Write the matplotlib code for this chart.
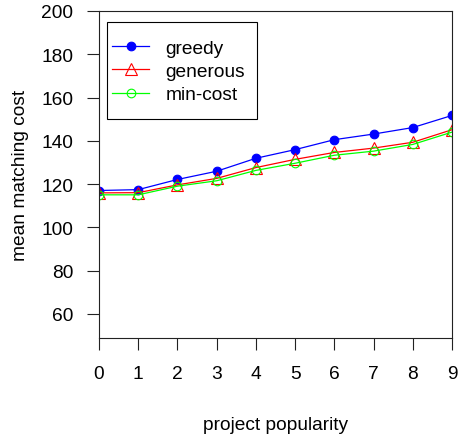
import matplotlib
matplotlib.use("Agg")
import matplotlib.pyplot as plt
from matplotlib.patches import Rectangle

plt.rcParams['font.family'] = ['Liberation Sans', 'DejaVu Sans']

popularity = [0, 1, 2, 3, 4, 5, 6, 7, 8, 9]
greedy = [117.0, 117.4, 122.1, 125.9, 131.9, 135.9, 140.5, 143.1, 146.1, 151.7]
generous = [115.9, 116.0, 119.6, 122.6, 127.6, 131.4, 134.6, 136.6, 139.3, 145.1]
min_cost = [115.0, 115.0, 119.0, 121.5, 126.3, 129.6, 133.3, 135.2, 138.3, 144.0]
xticks = list(range(10))
yticks = [60, 80, 100, 120, 140, 160, 180, 200]

W, H = 458, 439
fig = plt.figure(figsize=(W / 100, H / 100), dpi=100)
ax = fig.add_axes([99 / W, 1 - 339 / H, (452 - 99) / W, (339 - 12) / H])

fs = 13.8
lw = 0.9
ax.plot(popularity, greedy, color='blue', lw=lw, marker='o', ms=6.2,
        mfc='blue', mec='blue', mew=0.8, label='greedy')
ax.plot(popularity, generous, color='red', lw=lw, marker='^', ms=8,
        mfc='none', mec='red', mew=0.8, label='generous')
ax.plot(popularity, min_cost, color='#00ff00', lw=lw, marker='o', ms=6.2,
        mfc='none', mec='#00ff00', mew=0.8, label='min-cost')

ax.set_xlim(0, 9)
ax.set_ylim(48.8, 200)
ax.set_xticks(xticks)
ax.set_yticks(yticks)
ax.tick_params(axis='both', direction='out', length=8.6, width=0.8,
               labelsize=fs, color='#222222')
ax.tick_params(axis='y', pad=10)
ax.tick_params(axis='x', pad=11)
for s in ax.spines.values():
    s.set_linewidth(0.8)
    s.set_color('#222222')

ax.set_xlabel('project popularity', fontsize=fs, labelpad=24.5)
ax.set_ylabel('mean matching cost', fontsize=fs, labelpad=9)

# legend box drawn R-style
aw, ah = 452 - 99, 339 - 12
ax.add_patch(Rectangle(((107 - 99) / aw, 1 - (120 - 12) / ah), 150 / aw, 97 / ah,
                       transform=ax.transAxes, fill=False, edgecolor='black',
                       lw=0.8, zorder=5))
leg = ax.legend(loc='upper left', bbox_to_anchor=((112 - 99) / aw, 1 - (40.5 - 12) / ah),
                frameon=False, borderpad=0, fontsize=fs, handlelength=1.95,
                handletextpad=0.85, labelspacing=0.3, borderaxespad=0)

fig.savefig('out.png', dpi=100)
